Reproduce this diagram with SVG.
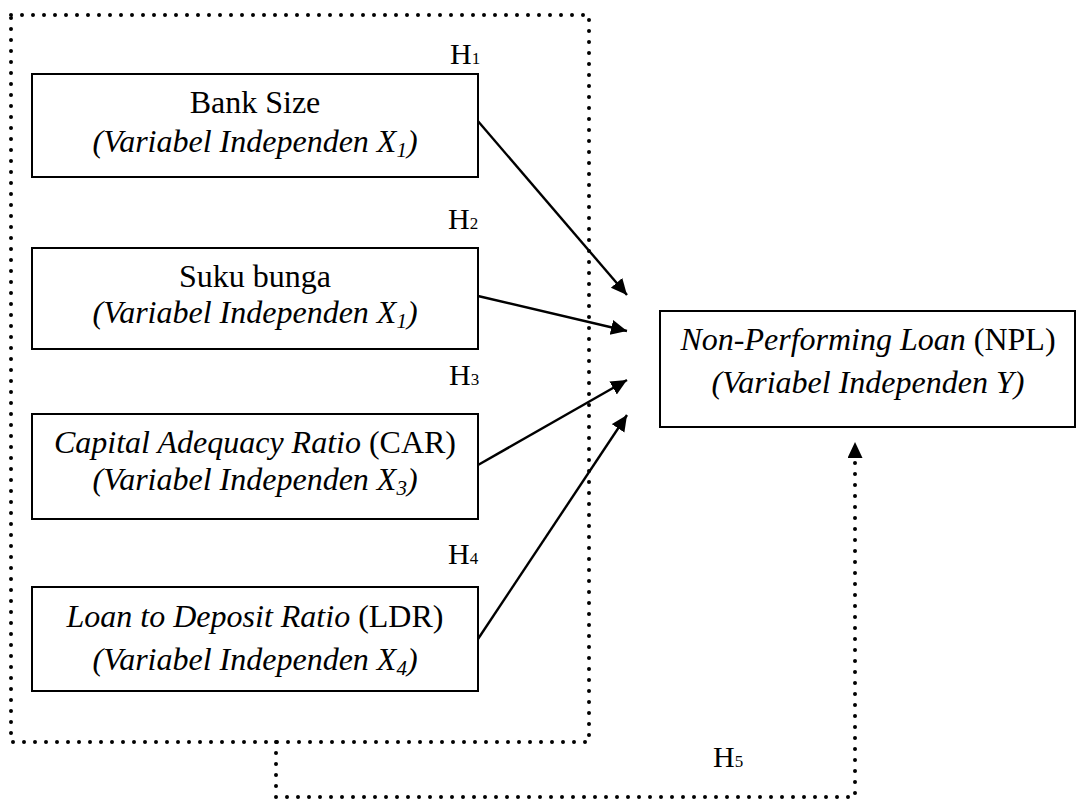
<svg xmlns="http://www.w3.org/2000/svg" width="1078" height="800" viewBox="0 0 1078 800">
<style>
.box{fill:#fff;stroke:#000;stroke-width:2}
.t{font-family:"Liberation Serif","Times New Roman",serif;font-size:32px;fill:#000;text-anchor:middle}
.i{font-style:italic}
.h{font-family:"Liberation Serif","Times New Roman",serif;font-size:30px;fill:#000}
.dot{fill:none;stroke:#000;stroke-width:4;stroke-linecap:round;stroke-dasharray:0 11}
.arr{fill:none;stroke:#000;stroke-width:2.4}
</style>
<defs>
<marker id="ah" markerUnits="userSpaceOnUse" markerWidth="18" markerHeight="16" refX="16" refY="7.5" orient="auto">
<path d="M0,0 L16,7.5 L0,15 z" style="fill:#000;stroke:none"/>
</marker>
</defs>
<rect width="1078" height="800" fill="#fff"/>
<g id="connectors">
<path class="dot" d="M11,15 H589 V742 H11 Z"/>
<path class="dot" d="M276,742 V797 H855 V442" marker-end="url(#ah)"/>
<line class="arr" x1="477" y1="120" x2="627" y2="295" marker-end="url(#ah)"/>
<line class="arr" x1="478" y1="296" x2="627" y2="331" marker-end="url(#ah)"/>
<line class="arr" x1="478" y1="465" x2="627" y2="380" marker-end="url(#ah)"/>
<line class="arr" x1="478" y1="639" x2="627" y2="415" marker-end="url(#ah)"/>
</g>
<g id="labels">
<text class="h" x="450" y="64">H<tspan font-size="17">1</tspan></text>
<text class="h" x="448" y="229">H<tspan font-size="17">2</tspan></text>
<text class="h" x="449" y="385">H<tspan font-size="17">3</tspan></text>
<text class="h" x="448" y="564">H<tspan font-size="17">4</tspan></text>
<text class="h" x="713" y="767">H<tspan font-size="17">5</tspan></text>
</g>
<g id="bank-size">
<rect class="box" x="32" y="74" width="446" height="103"/>
<text class="t" x="255" y="113">Bank Size</text>
<text class="t i" x="255" y="152">(Variabel Independen X<tspan font-size="21" dy="5">1</tspan><tspan dy="-5">)</tspan></text>
</g>
<g id="suku-bunga">
<rect class="box" x="32" y="248" width="446" height="101"/>
<text class="t" x="255" y="287">Suku bunga</text>
<text class="t i" x="255" y="323">(Variabel Independen X<tspan font-size="21" dy="5">1</tspan><tspan dy="-5">)</tspan></text>
</g>
<g id="car">
<rect class="box" x="32" y="414" width="446" height="105"/>
<text class="t" x="255" y="453"><tspan class="i">Capital Adequacy Ratio</tspan> (CAR)</text>
<text class="t i" x="255" y="490">(Variabel Independen X<tspan font-size="21" dy="5">3</tspan><tspan dy="-5">)</tspan></text>
</g>
<g id="ldr">
<rect class="box" x="32" y="587" width="446" height="104"/>
<text class="t" x="255" y="627"><tspan class="i">Loan to Deposit Ratio</tspan> (LDR)</text>
<text class="t i" x="255" y="670">(Variabel Independen X<tspan font-size="21" dy="5">4</tspan><tspan dy="-5">)</tspan></text>
</g>
<g id="npl">
<rect class="box" x="660" y="311" width="415" height="116"/>
<text class="t" x="868" y="350"><tspan class="i">Non-Performing Loan</tspan> (NPL)</text>
<text class="t i" x="868" y="393">(Variabel Independen Y)</text>
</g>
</svg>
